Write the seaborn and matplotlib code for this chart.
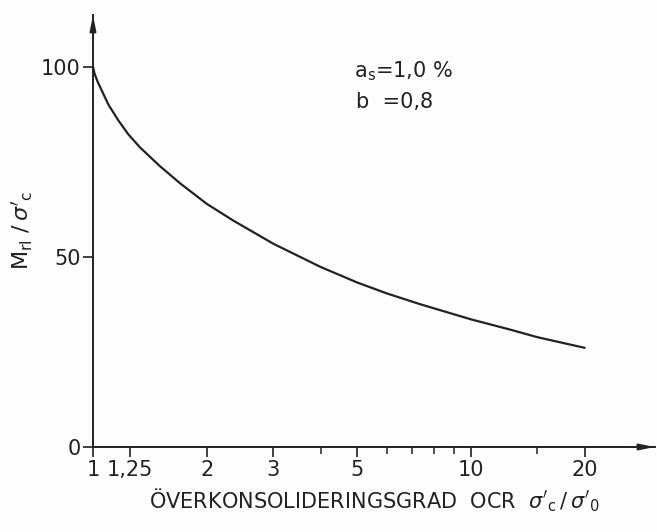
import numpy as np
import pandas as pd
import matplotlib
matplotlib.use("Agg")
import matplotlib.pyplot as plt
import seaborn as sns
from matplotlib.ticker import FixedLocator, NullFormatter

# data
ocr = [1.0, 1.01, 1.03, 1.1, 1.17, 1.24, 1.33, 1.5, 1.7, 2.0, 2.35, 3.0, 4.0,
       5.0, 6.0, 7.33, 10.0, 12.7, 15.0, 20.0]
m_ratio = [100.0, 98.2, 96.0, 90.0, 85.8, 82.3, 78.9, 74.0, 69.4, 64.0, 59.6, 53.5, 47.4,
           43.3, 40.4, 37.6, 33.6, 30.9, 28.9, 26.1]
major_ticks = [1, 1.25, 2, 3, 5, 10, 20]
major_labels = ["1", "1,25", "2", "3", "5", "10", "20"]
minor_ticks = [4, 6, 7, 8, 9, 15]
y_ticks = [0, 50, 100]
y_labels = ["0", "50", "100"]

sns.set_style("ticks")
plt.rcParams['font.family'] = ['DejaVu Sans']
plt.rcParams['mathtext.fontset'] = 'dejavusans'

ink = "#222222"
fig = plt.figure(figsize=(6.57, 5.32), dpi=100, facecolor="#fdfdfd")
ax = fig.add_axes([93/657, 85/532, (655-93)/657, (447-15)/532])
ax.set_facecolor("#fdfdfd")

df = pd.DataFrame({"ocr": ocr, "m": m_ratio})
sns.lineplot(data=df, x="ocr", y="m", ax=ax, color=ink, linewidth=1.6)

ax.set_xscale("log")
ax.set_xlim(1, 30.7)
ax.set_ylim(0, 113.7)

ax.xaxis.set_major_locator(FixedLocator(major_ticks))
ax.set_xticklabels(major_labels)
ax.xaxis.set_minor_locator(FixedLocator(minor_ticks))
ax.xaxis.set_minor_formatter(NullFormatter())
ax.set_yticks(y_ticks)
ax.set_yticklabels(y_labels)

for s in ["top", "right"]:
    ax.spines[s].set_visible(False)
for s in ["left", "bottom"]:
    ax.spines[s].set_color(ink)
    ax.spines[s].set_linewidth(1.4)

ax.tick_params(axis="both", which="major", direction="out", length=7, width=1.2,
               colors=ink, labelsize=15, pad=2)
ax.tick_params(axis="x", which="minor", direction="out", length=5, width=1.1, colors=ink)

# arrow heads
ax.annotate("", xy=(1.0, 0), xytext=(0.96, 0), xycoords="axes fraction",
            arrowprops=dict(arrowstyle="-|>,head_length=0.9,head_width=0.18",
                            color=ink, lw=1.4, shrinkA=0, shrinkB=0), annotation_clip=False)
ax.annotate("", xy=(0, 1.0), xytext=(0, 0.95), xycoords="axes fraction",
            arrowprops=dict(arrowstyle="-|>,head_length=0.9,head_width=0.18",
                            color=ink, lw=1.4, shrinkA=0, shrinkB=0), annotation_clip=False)

ax.set_xlabel(r"ÖVERKONSOLIDERINGSGRAD  OCR  $\sigma'_\mathrm{c}\,/\,\sigma'_0$",
              fontsize=15, color=ink, labelpad=5)
ax.set_ylabel(r"$\mathrm{M_{rl}}\ /\,\sigma'_\mathrm{c}$", fontsize=16, color=ink, labelpad=4)

ax.text(0.465, 0.855, r"$\mathrm{a_s}$=1,0 %", transform=ax.transAxes, fontsize=15, color=ink)
ax.text(0.468, 0.785, r"b  =0,8", transform=ax.transAxes, fontsize=15, color=ink)

fig.savefig("out.png", dpi=100, facecolor=fig.get_facecolor())
